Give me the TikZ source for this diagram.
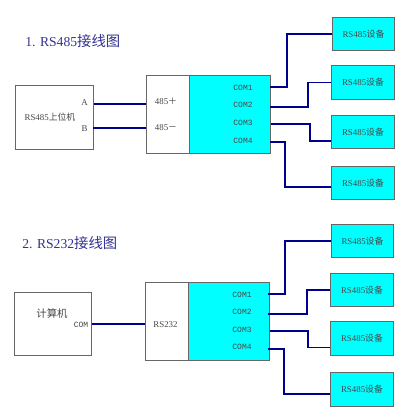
\documentclass[tikz,border=0pt]{standalone}
\usepackage{fontspec}
\setmainfont{Liberation Serif}
\newfontfamily\cjk{Noto Sans CJK SC}
\newfontfamily\comfont[Scale=0.9]{Liberation Mono}
\usepackage{tikz}
\usetikzlibrary{positioning}
\definecolor{hubcyan}{RGB}{0,255,255}
\definecolor{wireblue}{RGB}{0,0,144}

\begin{document}
\begin{tikzpicture}[
  x=0.025cm, y=-0.025cm,
  lbl/.style={font=\fontsize{6.3}{7}\selectfont, inner sep=0pt, text=black!72},
  comlbl/.style={font=\fontsize{6.3}{7}\selectfont\comfont, inner sep=0pt, text=black!72},
  ttl/.style={font=\fontsize{9.7}{11}\selectfont, inner sep=0pt, text=blue!45!black!80, anchor=west},
  whitebox/.style={draw=black!60, line width=0.6pt, fill=white, inner sep=0pt},
  hostbox/.style={whitebox, minimum width=1.93cm, minimum height=1.58cm},
  portbox/.style={whitebox, minimum width=1.075cm, minimum height=1.95cm},
  hubbox/.style={draw=black!60, line width=0.6pt, fill=hubcyan, inner sep=0pt, minimum width=2.025cm, minimum height=1.95cm},
  devbox/.style={hubbox, minimum width=1.57cm, minimum height=0.83cm},
  wire/.style={draw=wireblue, line width=1.4pt}
]
\useasboundingbox (0,0) rectangle (418,420);

% upper diagram
\node[ttl] (title1) at (25,41) {1. RS485{\fontsize{10.2}{11}\selectfont\cjk 接线图}};
\node[hostbox] (host1) at (54.5,117.5) {};
\node[portbox] (port1) at (168,114) {};
\node[hubbox] (hub1) at (230,114) {};
\node[devbox] (dev11) at (363.5,34) {};
\node[devbox] (dev12) at (363,82.5) {};
\node[devbox] (dev13) at (363,132) {};
\node[devbox] (dev14) at (363,183) {};

\node[lbl] (hostname1) at (50,117) {RS485{\cjk 上位机}};
\node[lbl] (hosta) at (84.5,103) {A};
\node[lbl] (hostb) at (84.5,129) {B};
\node[lbl] (plus) at (166,101.5) {485{\cjk ＋}};
\node[lbl] (minus) at (166,128) {485{\cjk －}};
\node[comlbl] (com11) at (243,87.5) {COM1};
\node[comlbl] (com12) at (243,105) {COM2};
\node[comlbl] (com13) at (243,123) {COM3};
\node[comlbl] (com14) at (243,140.5) {COM4};
\node[lbl] at (dev11) {RS485{\cjk 设备}};
\node[lbl] at (dev12) {RS485{\cjk 设备}};
\node[lbl] at (dev13) {RS485{\cjk 设备}};
\node[lbl] at (dev14) {RS485{\cjk 设备}};

\coordinate (a1) at (94,104);
\coordinate (b1) at (93,128);
\coordinate (s11) at (270,87);
\coordinate (s12) at (270,107);
\coordinate (s13) at (271,124);
\coordinate (s14) at (270,142);

\draw[wire] (a1) -- (a1 -| port1.west);
\draw[wire] (b1) -- (b1 -| port1.west);
\draw[wire] (s11) -- (287,87) |- (dev11.west);
\draw[wire] (s12) -- (308,107) |- (dev12.west);
\draw[wire] (s13) -- (310,124) |- ([yshift=-0.225cm]dev13.west);
\draw[wire] (s14) -- (285,142) |- ([yshift=-0.1cm]dev14.west);

% lower diagram
\node[ttl] (title2) at (22,243) {2. RS232{\fontsize{10.2}{11}\selectfont\cjk 接线图}};
\node[hostbox] (host2) at (53.2,324.3) {};
\node[portbox] (port2) at (167,321) {};
\node[hubbox] (hub2) at (229,321) {};
\node[devbox] (dev21) at (362.5,240.7) {};
\node[devbox] (dev22) at (362,289.7) {};
\node[devbox] (dev23) at (362,338.5) {};
\node[devbox] (dev24) at (362,389.5) {};

\node[lbl, font=\fontsize{7.4}{9}\selectfont] (hostname2) at (52,314) {\cjk 计算机};
\node[comlbl] (hostcom) at (81,324.5) {COM};
\node[lbl] (rs232) at (165.5,325) {RS232};
\node[comlbl] (com21) at (242,294.5) {COM1};
\node[comlbl] (com22) at (242,312) {COM2};
\node[comlbl] (com23) at (242,329.5) {COM3};
\node[comlbl] (com24) at (242,347) {COM4};
\node[lbl] at (dev21) {RS485{\cjk 设备}};
\node[lbl] at (dev22) {RS485{\cjk 设备}};
\node[lbl] at (dev23) {RS485{\cjk 设备}};
\node[lbl] at (dev24) {RS485{\cjk 设备}};

\coordinate (c2) at (92,324);
\coordinate (s21) at (268,294);
\coordinate (s22) at (268,314);
\coordinate (s23) at (270,331);
\coordinate (s24) at (268,349);

\draw[wire] (c2) -- (c2 -| port2.west);
\draw[wire] (s21) -- (285,294) |- (dev21.west);
\draw[wire] (s22) -- (307,314) |- (dev22.west);
\draw[wire] (s23) -- (308,331) |- ([yshift=-0.225cm]dev23.west);
\draw[wire] (s24) -- (284,349) |- ([yshift=-0.1125cm]dev24.west);

\end{tikzpicture}
\end{document}
